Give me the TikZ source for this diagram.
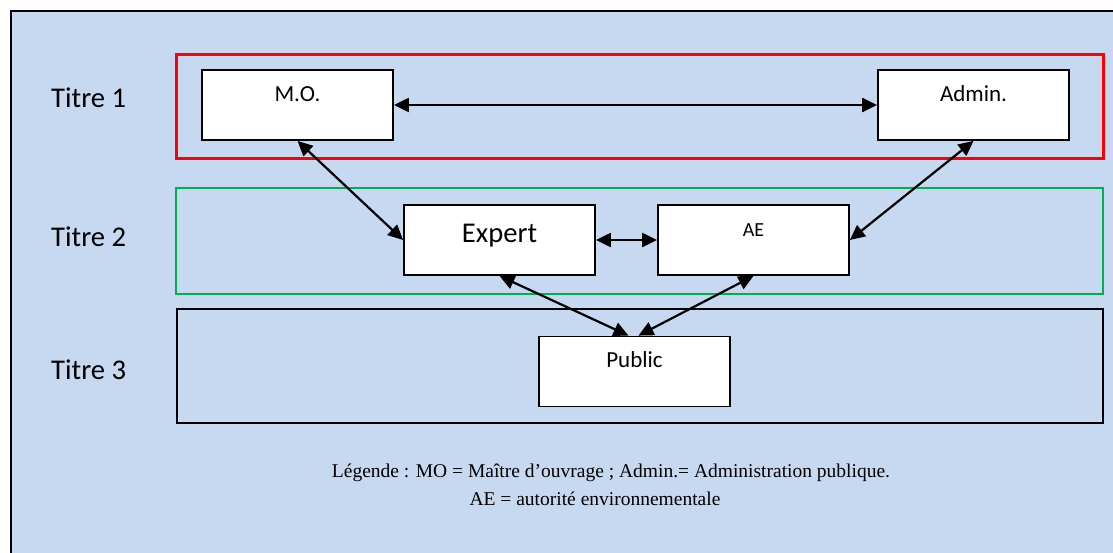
\documentclass[tikz,border=0pt]{standalone}
\usepackage{fontspec}
\setmainfont{Liberation Serif}
\newfontfamily\boxfont{Carlito}
\usetikzlibrary{arrows.meta}
\definecolor{bgblue}{RGB}{198,217,241}
\definecolor{grpgreen}{RGB}{0,176,80}
\begin{document}
\begin{tikzpicture}[x=1pt, y=-1pt,
  actor/.style={rectangle, draw=black, fill=white, line width=1.8pt, minimum width=191pt, minimum height=70pt, inner sep=0pt},
  actortext/.style={anchor=base, inner sep=0pt, font=\boxfont\fontsize{23}{27}\selectfont},
  titre/.style={anchor=base west, inner sep=0pt, font=\boxfont\fontsize{28.6}{34}\selectfont},
  legende/.style={anchor=base, inner sep=0pt, font=\fontsize{19.5}{23}\selectfont},
  link/.style={{Triangle[length=15pt,width=14pt]}-{Triangle[length=15pt,width=14pt]}, line width=2.2pt}]

\clip (0,0) rectangle (1113,552);

% Frame
\draw[line width=2pt, fill=bgblue] (11,11) rectangle (1130,570);

% Groups
\draw[line width=3pt, red] (176,54) rectangle (1103,158);
\draw[line width=2pt, grpgreen] (176,188) rectangle (1103,294);
\draw[line width=2pt, black] (177,309) rectangle (1103,423);

\node[titre] (t1) at (51,107) {Titre 1};
\node[titre] (t2) at (51,246) {Titre 2};
\node[titre] (t3) at (51,379) {Titre 3};

% Actors
\node[actor] (mo) at (297.5,105) {};
\node[actortext] at ([yshift=-32pt]mo.north) {M.O.};
\node[actor] (admin) at (973.5,105) {};
\node[actortext] at ([yshift=-32pt]admin.north) {Admin.};

\node[actor] (expert) at (499.5,240) {};
\node[actortext, font=\boxfont\fontsize{28.6}{34}\selectfont] at ([yshift=-38pt]expert.north) {Expert};
\node[actor] (ae) at (753.5,240) {};
\node[actortext, font=\boxfont\fontsize{20}{24}\selectfont] at ([yshift=-32pt]ae.north) {AE};

\node[actor] (public) at (634.5,371.5) {};
\node[actortext] at ([yshift=-32pt]public.north) {Public};

% Links
\draw[link] (mo) -- (admin);
\draw[link] (mo.south) -- (expert.west);
\draw[link] (admin.south) -- (ae.east);
\draw[link] (expert) -- (ae);
\draw[link] (expert.south) -- ([xshift=-6pt]public.north);
\draw[link] (ae.south) -- ([xshift=4pt]public.north);

% Legend
\node[legende] (leg1) at (611,477) {Légende : MO = Maître d’ouvrage ; Admin.= Administration publique.};
\node[legende] (leg2) at (595,505) {AE = autorité environnementale};
\end{tikzpicture}
\end{document}
